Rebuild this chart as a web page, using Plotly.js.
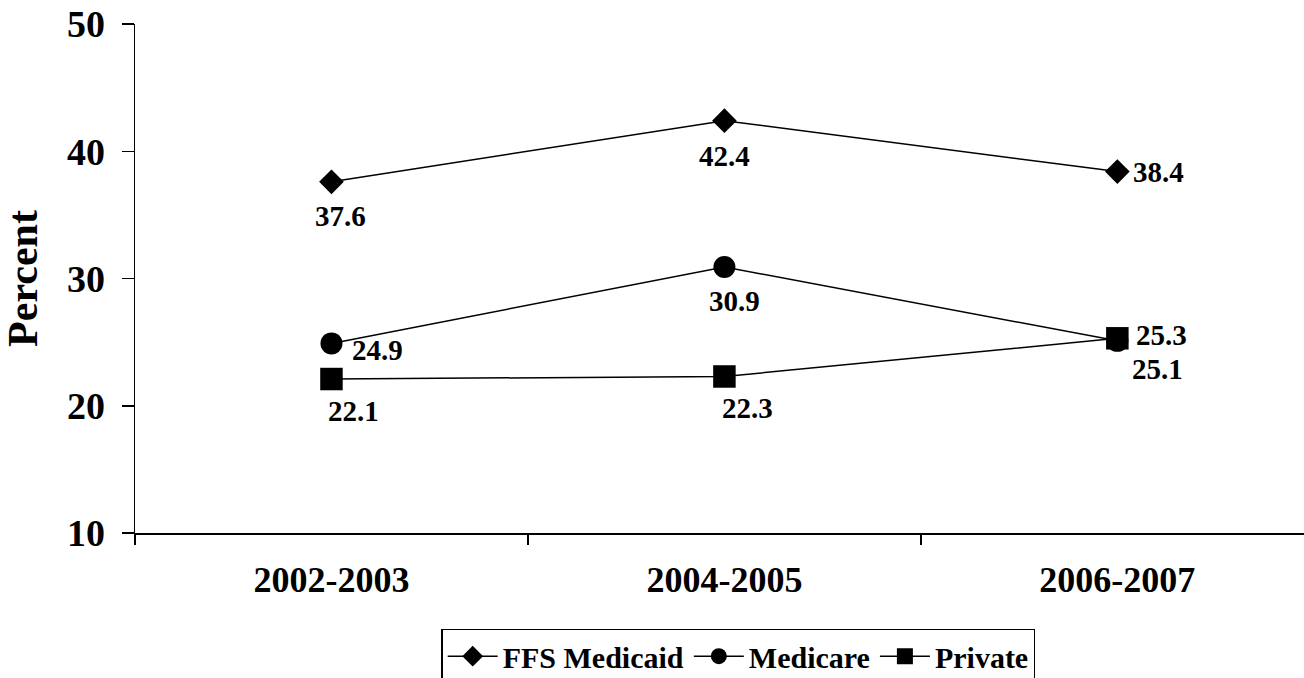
<!DOCTYPE html>
<html>
<head>
<meta charset="utf-8">
<script src="https://cdn.plot.ly/plotly-3.0.1.min.js"></script>
<style>html,body{margin:0;padding:0;background:#fff;}#chart{width:1304px;height:678px;}</style>
</head>
<body>
<div id="chart"></div>
<script>
const categories = ["2002-2003", "2004-2005", "2006-2007"];
const seriesNames = ["FFS Medicaid", "Medicare", "Private"];
const ffsMedicaid = [37.6, 42.4, 38.4];
const medicare = [24.9, 30.9, 25.1];
const privateIns = [22.1, 22.3, 25.3];
const yTicks = [10, 20, 30, 40, 50];

const FONT = "Liberation Serif, Times New Roman, serif";

// label placement (pixel offsets of each value label from its marker)
const labelOffsets = [
  [[9, -34], [0, -35], [41, 0]],
  [[46, -7], [10, -34], [40, -28]],
  [[22, -32], [23, -32], [44, 3]]
];
const seriesValues = [ffsMedicaid, medicare, privateIns];
const symbols = ["diamond", "circle", "square"];
const sizes = [19, 22, 22.5];

const data = seriesValues.map((vals, s) => ({
  type: "scatter",
  mode: "lines+markers",
  name: seriesNames[s],
  x: categories,
  y: vals,
  line: {color: "#000", width: 1.5},
  marker: {symbol: symbols[s], size: sizes[s], color: "#000"},
  cliponaxis: false
}));

const annotations = [];
seriesValues.forEach((vals, s) => {
  vals.forEach((v, i) => {
    annotations.push({
      x: categories[i], y: v, xref: "x", yref: "y",
      text: v.toFixed(1), showarrow: false,
      xanchor: "center", yanchor: "middle",
      borderpad: 0,
      xshift: labelOffsets[s][i][0], yshift: labelOffsets[s][i][1],
      font: {family: FONT, size: 29, color: "#000", weight: "bold"}
    });
  });
});

const layout = {
  width: 1304,
  height: 678,
  margin: {l: 135, r: 0, t: 24, b: 145, autoexpand: false},
  paper_bgcolor: "#fff",
  plot_bgcolor: "#fff",
  showlegend: true,
  font: {family: FONT, color: "#000", weight: "bold"},
  annotations: annotations,
  xaxis: {
    type: "category",
    range: [-0.5, 2.475],
    showline: true,
    linecolor: "#000",
    linewidth: 1.5,
    showgrid: false,
    zeroline: false,
    ticks: "outside",
    tickson: "boundaries",
    ticklen: 10,
    tickwidth: 1.5,
    tickcolor: "#000",
    ticklabelstandoff: 14,
    tickfont: {family: FONT, size: 36, color: "#000", weight: "bold"}
  },
  yaxis: {
    range: [10, 50],
    tickvals: yTicks,
    showline: true,
    linecolor: "#000",
    linewidth: 1.5,
    showgrid: false,
    zeroline: false,
    ticks: "outside",
    ticklen: 12,
    tickwidth: 1.5,
    tickcolor: "#000",
    ticklabelstandoff: 9,
    tickfont: {family: FONT, size: 38, color: "#000", weight: "bold"},
    title: {text: "Percent", standoff: 16, font: {family: FONT, size: 42, color: "#000", weight: "bold"}}
  },
  legend: {
    orientation: "h",
    x: 0.516,
    xanchor: "center",
    y: -0.188,
    yanchor: "top",
    bordercolor: "#000",
    borderwidth: 1.5,
    itemwidth: 50,
    font: {family: FONT, size: 30, color: "#000", weight: "bold"},
    traceorder: "normal"
  }
};

Plotly.newPlot("chart", data, layout, {displayModeBar: false, staticPlot: true});
</script>
</body>
</html>
